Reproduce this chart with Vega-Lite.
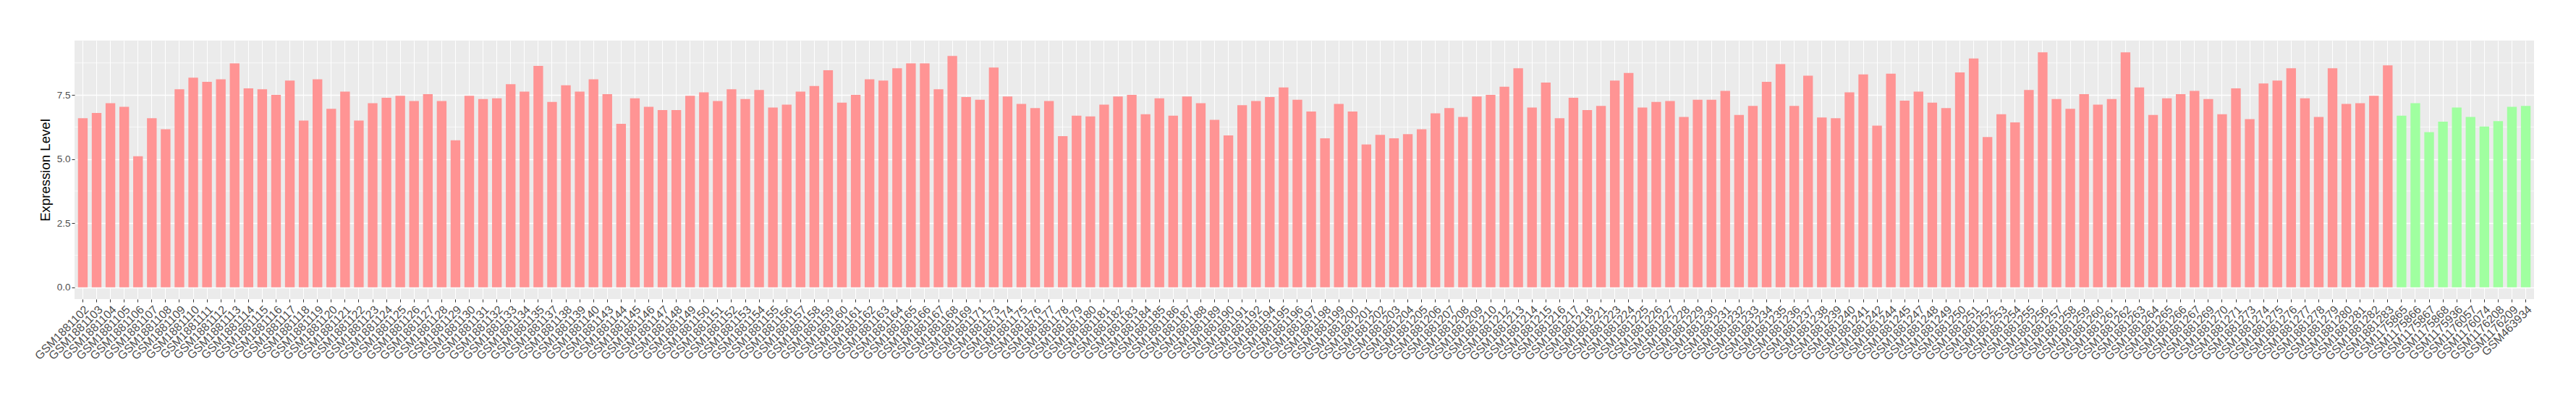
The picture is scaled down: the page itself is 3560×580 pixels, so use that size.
{
  "$schema": "https://vega.github.io/schema/vega-lite/v6.json",
  "width": 3399,
  "height": 357,
  "autosize": {"type": "none"},
  "padding": {"left": 103, "top": 56, "right": 58, "bottom": 167},
  "background": "white",
  "config": {
    "view": {"stroke": null, "fill": "#EBEBEB"},
    "font": "Liberation Sans"
  },
  "layer": [
    {
      "data": {"values": [{"v": 1.25}, {"v": 3.75}, {"v": 6.25}, {"v": 8.75}]},
      "mark": {"type": "rule", "color": "white", "strokeWidth": 0.7},
      "encoding": {
        "y": {"field": "v", "type": "quantitative", "scale": {"domain": [-0.46, 9.62], "nice": false, "zero": false}}
      }
    },
    {
      "data": {"values": [
        {"sample": "GSM1881102", "value": 6.59, "group": "tumor"},
        {"sample": "GSM1881103", "value": 6.80, "group": "tumor"},
        {"sample": "GSM1881104", "value": 7.18, "group": "tumor"},
        {"sample": "GSM1881105", "value": 7.04, "group": "tumor"},
        {"sample": "GSM1881106", "value": 5.11, "group": "tumor"},
        {"sample": "GSM1881107", "value": 6.59, "group": "tumor"},
        {"sample": "GSM1881108", "value": 6.16, "group": "tumor"},
        {"sample": "GSM1881109", "value": 7.72, "group": "tumor"},
        {"sample": "GSM1881110", "value": 8.17, "group": "tumor"},
        {"sample": "GSM1881111", "value": 8.01, "group": "tumor"},
        {"sample": "GSM1881112", "value": 8.11, "group": "tumor"},
        {"sample": "GSM1881113", "value": 8.73, "group": "tumor"},
        {"sample": "GSM1881114", "value": 7.76, "group": "tumor"},
        {"sample": "GSM1881115", "value": 7.72, "group": "tumor"},
        {"sample": "GSM1881116", "value": 7.50, "group": "tumor"},
        {"sample": "GSM1881117", "value": 8.06, "group": "tumor"},
        {"sample": "GSM1881118", "value": 6.50, "group": "tumor"},
        {"sample": "GSM1881119", "value": 8.11, "group": "tumor"},
        {"sample": "GSM1881120", "value": 6.96, "group": "tumor"},
        {"sample": "GSM1881121", "value": 7.63, "group": "tumor"},
        {"sample": "GSM1881122", "value": 6.50, "group": "tumor"},
        {"sample": "GSM1881123", "value": 7.18, "group": "tumor"},
        {"sample": "GSM1881124", "value": 7.39, "group": "tumor"},
        {"sample": "GSM1881125", "value": 7.47, "group": "tumor"},
        {"sample": "GSM1881126", "value": 7.26, "group": "tumor"},
        {"sample": "GSM1881127", "value": 7.53, "group": "tumor"},
        {"sample": "GSM1881128", "value": 7.26, "group": "tumor"},
        {"sample": "GSM1881129", "value": 5.73, "group": "tumor"},
        {"sample": "GSM1881130", "value": 7.47, "group": "tumor"},
        {"sample": "GSM1881131", "value": 7.34, "group": "tumor"},
        {"sample": "GSM1881132", "value": 7.37, "group": "tumor"},
        {"sample": "GSM1881133", "value": 7.92, "group": "tumor"},
        {"sample": "GSM1881134", "value": 7.63, "group": "tumor"},
        {"sample": "GSM1881135", "value": 8.63, "group": "tumor"},
        {"sample": "GSM1881137", "value": 7.23, "group": "tumor"},
        {"sample": "GSM1881138", "value": 7.88, "group": "tumor"},
        {"sample": "GSM1881139", "value": 7.63, "group": "tumor"},
        {"sample": "GSM1881140", "value": 8.11, "group": "tumor"},
        {"sample": "GSM1881143", "value": 7.53, "group": "tumor"},
        {"sample": "GSM1881144", "value": 6.37, "group": "tumor"},
        {"sample": "GSM1881145", "value": 7.37, "group": "tumor"},
        {"sample": "GSM1881146", "value": 7.04, "group": "tumor"},
        {"sample": "GSM1881147", "value": 6.91, "group": "tumor"},
        {"sample": "GSM1881148", "value": 6.91, "group": "tumor"},
        {"sample": "GSM1881149", "value": 7.47, "group": "tumor"},
        {"sample": "GSM1881150", "value": 7.60, "group": "tumor"},
        {"sample": "GSM1881151", "value": 7.26, "group": "tumor"},
        {"sample": "GSM1881152", "value": 7.72, "group": "tumor"},
        {"sample": "GSM1881153", "value": 7.34, "group": "tumor"},
        {"sample": "GSM1881154", "value": 7.69, "group": "tumor"},
        {"sample": "GSM1881155", "value": 7.01, "group": "tumor"},
        {"sample": "GSM1881156", "value": 7.12, "group": "tumor"},
        {"sample": "GSM1881157", "value": 7.63, "group": "tumor"},
        {"sample": "GSM1881158", "value": 7.85, "group": "tumor"},
        {"sample": "GSM1881159", "value": 8.46, "group": "tumor"},
        {"sample": "GSM1881160", "value": 7.20, "group": "tumor"},
        {"sample": "GSM1881161", "value": 7.50, "group": "tumor"},
        {"sample": "GSM1881162", "value": 8.11, "group": "tumor"},
        {"sample": "GSM1881163", "value": 8.06, "group": "tumor"},
        {"sample": "GSM1881164", "value": 8.54, "group": "tumor"},
        {"sample": "GSM1881165", "value": 8.73, "group": "tumor"},
        {"sample": "GSM1881166", "value": 8.73, "group": "tumor"},
        {"sample": "GSM1881167", "value": 7.72, "group": "tumor"},
        {"sample": "GSM1881168", "value": 9.02, "group": "tumor"},
        {"sample": "GSM1881169", "value": 7.42, "group": "tumor"},
        {"sample": "GSM1881171", "value": 7.31, "group": "tumor"},
        {"sample": "GSM1881173", "value": 8.57, "group": "tumor"},
        {"sample": "GSM1881174", "value": 7.44, "group": "tumor"},
        {"sample": "GSM1881175", "value": 7.15, "group": "tumor"},
        {"sample": "GSM1881176", "value": 6.99, "group": "tumor"},
        {"sample": "GSM1881177", "value": 7.26, "group": "tumor"},
        {"sample": "GSM1881178", "value": 5.89, "group": "tumor"},
        {"sample": "GSM1881179", "value": 6.69, "group": "tumor"},
        {"sample": "GSM1881180", "value": 6.66, "group": "tumor"},
        {"sample": "GSM1881181", "value": 7.12, "group": "tumor"},
        {"sample": "GSM1881182", "value": 7.44, "group": "tumor"},
        {"sample": "GSM1881183", "value": 7.50, "group": "tumor"},
        {"sample": "GSM1881184", "value": 6.75, "group": "tumor"},
        {"sample": "GSM1881185", "value": 7.37, "group": "tumor"},
        {"sample": "GSM1881186", "value": 6.69, "group": "tumor"},
        {"sample": "GSM1881187", "value": 7.44, "group": "tumor"},
        {"sample": "GSM1881188", "value": 7.18, "group": "tumor"},
        {"sample": "GSM1881189", "value": 6.53, "group": "tumor"},
        {"sample": "GSM1881190", "value": 5.92, "group": "tumor"},
        {"sample": "GSM1881191", "value": 7.10, "group": "tumor"},
        {"sample": "GSM1881192", "value": 7.26, "group": "tumor"},
        {"sample": "GSM1881194", "value": 7.42, "group": "tumor"},
        {"sample": "GSM1881195", "value": 7.79, "group": "tumor"},
        {"sample": "GSM1881196", "value": 7.31, "group": "tumor"},
        {"sample": "GSM1881197", "value": 6.85, "group": "tumor"},
        {"sample": "GSM1881198", "value": 5.81, "group": "tumor"},
        {"sample": "GSM1881199", "value": 7.15, "group": "tumor"},
        {"sample": "GSM1881200", "value": 6.85, "group": "tumor"},
        {"sample": "GSM1881201", "value": 5.57, "group": "tumor"},
        {"sample": "GSM1881202", "value": 5.94, "group": "tumor"},
        {"sample": "GSM1881203", "value": 5.81, "group": "tumor"},
        {"sample": "GSM1881204", "value": 5.97, "group": "tumor"},
        {"sample": "GSM1881205", "value": 6.16, "group": "tumor"},
        {"sample": "GSM1881206", "value": 6.78, "group": "tumor"},
        {"sample": "GSM1881207", "value": 6.99, "group": "tumor"},
        {"sample": "GSM1881208", "value": 6.64, "group": "tumor"},
        {"sample": "GSM1881209", "value": 7.44, "group": "tumor"},
        {"sample": "GSM1881210", "value": 7.50, "group": "tumor"},
        {"sample": "GSM1881212", "value": 7.82, "group": "tumor"},
        {"sample": "GSM1881213", "value": 8.54, "group": "tumor"},
        {"sample": "GSM1881214", "value": 7.01, "group": "tumor"},
        {"sample": "GSM1881215", "value": 7.98, "group": "tumor"},
        {"sample": "GSM1881216", "value": 6.59, "group": "tumor"},
        {"sample": "GSM1881217", "value": 7.39, "group": "tumor"},
        {"sample": "GSM1881218", "value": 6.91, "group": "tumor"},
        {"sample": "GSM1881221", "value": 7.07, "group": "tumor"},
        {"sample": "GSM1881223", "value": 8.06, "group": "tumor"},
        {"sample": "GSM1881224", "value": 8.36, "group": "tumor"},
        {"sample": "GSM1881225", "value": 7.01, "group": "tumor"},
        {"sample": "GSM1881226", "value": 7.23, "group": "tumor"},
        {"sample": "GSM1881227", "value": 7.26, "group": "tumor"},
        {"sample": "GSM1881228", "value": 6.64, "group": "tumor"},
        {"sample": "GSM1881229", "value": 7.31, "group": "tumor"},
        {"sample": "GSM1881230", "value": 7.31, "group": "tumor"},
        {"sample": "GSM1881231", "value": 7.66, "group": "tumor"},
        {"sample": "GSM1881232", "value": 6.72, "group": "tumor"},
        {"sample": "GSM1881233", "value": 7.07, "group": "tumor"},
        {"sample": "GSM1881234", "value": 8.01, "group": "tumor"},
        {"sample": "GSM1881235", "value": 8.70, "group": "tumor"},
        {"sample": "GSM1881236", "value": 7.07, "group": "tumor"},
        {"sample": "GSM1881237", "value": 8.25, "group": "tumor"},
        {"sample": "GSM1881238", "value": 6.62, "group": "tumor"},
        {"sample": "GSM1881239", "value": 6.59, "group": "tumor"},
        {"sample": "GSM1881240", "value": 7.60, "group": "tumor"},
        {"sample": "GSM1881241", "value": 8.30, "group": "tumor"},
        {"sample": "GSM1881242", "value": 6.30, "group": "tumor"},
        {"sample": "GSM1881244", "value": 8.33, "group": "tumor"},
        {"sample": "GSM1881245", "value": 7.28, "group": "tumor"},
        {"sample": "GSM1881247", "value": 7.63, "group": "tumor"},
        {"sample": "GSM1881248", "value": 7.20, "group": "tumor"},
        {"sample": "GSM1881249", "value": 6.99, "group": "tumor"},
        {"sample": "GSM1881250", "value": 8.38, "group": "tumor"},
        {"sample": "GSM1881251", "value": 8.92, "group": "tumor"},
        {"sample": "GSM1881252", "value": 5.86, "group": "tumor"},
        {"sample": "GSM1881253", "value": 6.75, "group": "tumor"},
        {"sample": "GSM1881254", "value": 6.43, "group": "tumor"},
        {"sample": "GSM1881255", "value": 7.69, "group": "tumor"},
        {"sample": "GSM1881256", "value": 9.16, "group": "tumor"},
        {"sample": "GSM1881257", "value": 7.34, "group": "tumor"},
        {"sample": "GSM1881258", "value": 6.96, "group": "tumor"},
        {"sample": "GSM1881259", "value": 7.53, "group": "tumor"},
        {"sample": "GSM1881260", "value": 7.12, "group": "tumor"},
        {"sample": "GSM1881261", "value": 7.34, "group": "tumor"},
        {"sample": "GSM1881262", "value": 9.16, "group": "tumor"},
        {"sample": "GSM1881263", "value": 7.79, "group": "tumor"},
        {"sample": "GSM1881264", "value": 6.72, "group": "tumor"},
        {"sample": "GSM1881265", "value": 7.37, "group": "tumor"},
        {"sample": "GSM1881266", "value": 7.53, "group": "tumor"},
        {"sample": "GSM1881267", "value": 7.66, "group": "tumor"},
        {"sample": "GSM1881269", "value": 7.34, "group": "tumor"},
        {"sample": "GSM1881270", "value": 6.75, "group": "tumor"},
        {"sample": "GSM1881271", "value": 7.76, "group": "tumor"},
        {"sample": "GSM1881273", "value": 6.56, "group": "tumor"},
        {"sample": "GSM1881274", "value": 7.95, "group": "tumor"},
        {"sample": "GSM1881275", "value": 8.06, "group": "tumor"},
        {"sample": "GSM1881276", "value": 8.54, "group": "tumor"},
        {"sample": "GSM1881277", "value": 7.37, "group": "tumor"},
        {"sample": "GSM1881278", "value": 6.64, "group": "tumor"},
        {"sample": "GSM1881279", "value": 8.54, "group": "tumor"},
        {"sample": "GSM1881280", "value": 7.15, "group": "tumor"},
        {"sample": "GSM1881281", "value": 7.18, "group": "tumor"},
        {"sample": "GSM1881282", "value": 7.47, "group": "tumor"},
        {"sample": "GSM1881283", "value": 8.65, "group": "tumor"},
        {"sample": "GSM1175865", "value": 6.69, "group": "normal"},
        {"sample": "GSM1175866", "value": 7.18, "group": "normal"},
        {"sample": "GSM1175867", "value": 6.05, "group": "normal"},
        {"sample": "GSM1175868", "value": 6.46, "group": "normal"},
        {"sample": "GSM1175936", "value": 7.01, "group": "normal"},
        {"sample": "GSM1176057", "value": 6.64, "group": "normal"},
        {"sample": "GSM1176074", "value": 6.27, "group": "normal"},
        {"sample": "GSM1176208", "value": 6.48, "group": "normal"},
        {"sample": "GSM1176209", "value": 7.04, "group": "normal"},
        {"sample": "GSM463934", "value": 7.07, "group": "normal"}
      ]},
      "mark": {"type": "bar"},
      "encoding": {
        "x": {
          "field": "sample", "type": "nominal", "sort": null,
          "scale": {"paddingInner": 0.3, "paddingOuter": 0.25},
          "axis": {
            "title": null, "labelAngle": -45, "labelAlign": "right", "labelBaseline": "top",
            "labelFontSize": 16, "labelColor": "#4D4D4D", "labelPadding": 2,
            "labelOverlap": false, "labelBound": false, "labelLimit": 0,
            "tickSize": 4, "tickColor": "#333333", "tickWidth": 1, "domain": false,
            "grid": true, "gridColor": "white", "gridWidth": 1, "bandPosition": 0.5
          }
        },
        "y": {
          "field": "value", "type": "quantitative",
          "scale": {"domain": [-0.46, 9.62], "nice": false, "zero": false},
          "axis": {
            "title": "Expression Level", "titleFontSize": 18.6, "titleFontWeight": "normal",
            "titleColor": "black", "titlePadding": 6,
            "values": [0, 2.5, 5, 7.5], "format": ".1f",
            "labelFontSize": 13.5, "labelColor": "#4D4D4D", "labelPadding": 2,
            "tickSize": 4, "tickColor": "#333333", "domain": false,
            "grid": true, "gridColor": "white", "gridWidth": 1.3
          }
        },
        "y2": {"datum": 0},
        "color": {
          "field": "group", "type": "nominal",
          "scale": {"domain": ["tumor", "normal"], "range": ["#FF9494", "#A0FFA0"]},
          "legend": null
        }
      }
    }
  ]
}
